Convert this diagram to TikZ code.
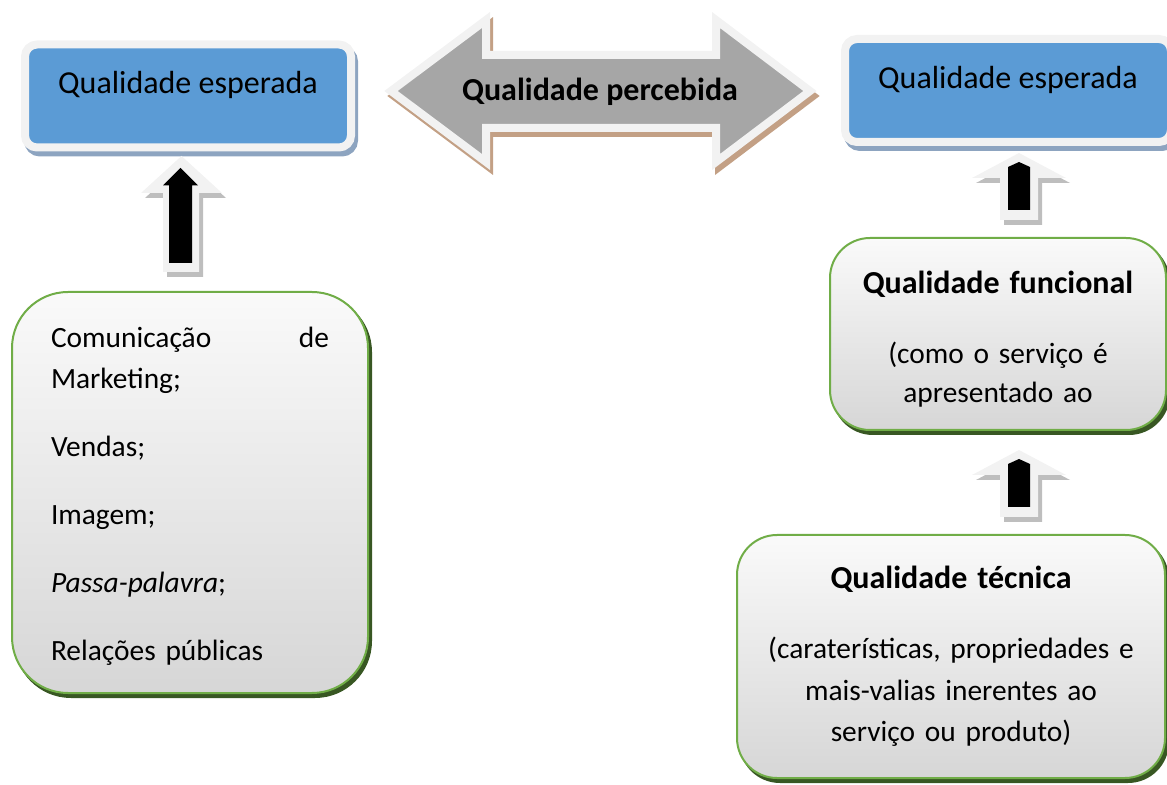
\documentclass[tikz,border=0pt]{standalone}
\usepackage{fontspec}
\setmainfont{Carlito}

\definecolor{boxblue}{RGB}{91,155,213}
\definecolor{ringgray}{RGB}{242,242,242}
\definecolor{shadowblue}{RGB}{141,164,192}
\definecolor{arrowgray}{RGB}{166,166,166}
\definecolor{shadowbrown}{RGB}{195,160,133}
\definecolor{boxgreen}{RGB}{112,173,71}
\definecolor{shadowgreen}{RGB}{56,87,35}
\definecolor{shadowgray}{RGB}{190,190,190}

\begin{document}
\begin{tikzpicture}[x=0.5pt, y=-0.5pt]

    \tikzset{bluebox/.style={draw=ringgray, line width=4pt, fill=boxblue, rounded corners=6pt,
        minimum width=163pt, minimum height=51.5pt, text height=8pt, text depth=10pt,
        font=\fontsize{16}{19}\selectfont,
        preaction={draw=shadowblue, fill=shadowblue, line width=4pt, transform canvas={shift={(1.5pt,-2.5pt)}}}}}
    \tikzset{greenbox/.style={draw=boxgreen, line width=1pt, top color=white!98!black, bottom color=white!84!black,
        preaction={draw=shadowgreen, fill=shadowgreen, line width=1pt, transform canvas={shift={(1.5pt,-2pt)}}}}}
    \tikzset{whitearrow/.style={fill=ringgray, preaction={fill=shadowgray, transform canvas={shift={(2pt,-2.5pt)}}}}}

    \useasboundingbox (0,0) rectangle (1167,785);

    % top boxes
    \node[bluebox] (esp1) at ( 188, 96) {Qualidade esperada};
    \node[bluebox] (esp2) at (1008, 90.5) {Qualidade esperada};

    % double arrow
    \draw[draw=ringgray, fill=arrowgray, line width=4pt, miter limit=10,
        preaction={draw=shadowbrown, fill=shadowbrown, line width=4pt, transform canvas={shift={(1.5pt,-2.5pt)}}}]
        (391,91) -- (486,20) -- (486,55) -- (716,55) -- (716,20) -- (810,91)
        -- (716,162) -- (716,128) -- (486,128) -- (486,162) -- cycle;
    \node[font=\fontsize{16}{19}\selectfont\bfseries] (perc) at (600,92) {Qualidade percebida};

    % green boxes
    \node[greenbox, rounded corners=28pt, minimum width=178pt, minimum height=200.5pt,
        text width=139pt, align=left, font=\fontsize{14.7}{20.5}\selectfont] (fatores) at (190,492.5)
        {\rule{0pt}{13.6pt}Comunicação\hfill de\\
         Marketing;\\[13.5pt]
         Vendas;\\[13.5pt]
         Imagem;\\[13.5pt]
         \textit{Passa-palavra};\\[13.5pt]
         Relações públicas};

    \node[greenbox, rounded corners=20pt, minimum width=168pt, minimum height=96pt,
        text width=160pt, align=center, font=\fontsize{14.7}{19.5}\selectfont] (func) at (998,334)
        {\rule{0pt}{16.5pt}{\fontsize{16}{19.5}\selectfont\bfseries Qualidade funcional}\\[15.5pt]
         (como o serviço é\\
         apresentado ao};

    \node[greenbox, rounded corners=20pt, minimum width=214pt, minimum height=121.5pt,
        text width=200pt, align=center, font=\fontsize{14.7}{20.75}\selectfont] (tec) at (951,656.5)
        {{\fontsize{16}{20.75}\selectfont\bfseries Qualidade técnica}\\[14.25pt]
         (caraterísticas, propriedades e\\
         mais-valias inerentes ao\\
         serviço ou produto)};

    % up arrows
    \fill[whitearrow] (181.5,156) -- (222,193) -- (199,193) -- (199,272) -- (163,272) -- (163,193) -- (141,193) -- cycle;
    \fill[black] (180.5,168) -- (198,185.5) -- (192,185.5) -- (192,263) -- (169,263) -- (169,185.5) -- (163,185.5) -- cycle;

    \fill[whitearrow] (1019,153) -- (1066,178) -- (1038,178) -- (1038,220) -- (1000,220) -- (1000,178) -- (972,178) -- cycle;
    \fill[black] (1019,162) -- (1030,167) -- (1030,210) -- (1008,210) -- (1008,167) -- cycle;

    \begin{scope}[shift={(0,297)}]
        \fill[whitearrow] (1019,153) -- (1066,178) -- (1038,178) -- (1038,220) -- (1000,220) -- (1000,178) -- (972,178) -- cycle;
        \fill[black] (1019,162) -- (1030,167) -- (1030,210) -- (1008,210) -- (1008,167) -- cycle;
    \end{scope}

\end{tikzpicture}
\end{document}
